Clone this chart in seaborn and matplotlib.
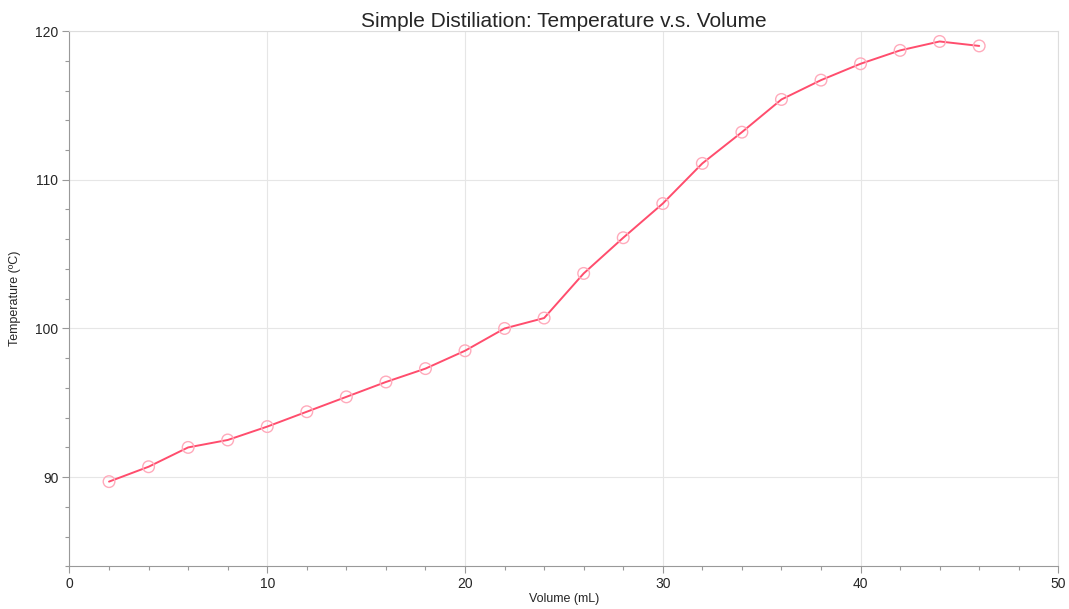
import pandas as pd
import seaborn as sns
import matplotlib.pyplot as plt
from matplotlib.ticker import MultipleLocator

volume = [2, 4, 6, 8, 10, 12, 14, 16, 18, 20, 22, 24, 26, 28, 30, 32, 34, 36, 38, 40, 42, 44, 46]
temperature = [89.7, 90.7, 92.0, 92.5, 93.4, 94.4, 95.4, 96.4, 97.3, 98.5, 100.0, 100.7,
               103.7, 106.1, 108.4, 111.1, 113.2, 115.4, 116.7, 117.8, 118.7, 119.3, 119.0]

df = pd.DataFrame({'Volume': volume, 'Temperature': temperature})

sns.set_style('white')
plt.rcParams['font.family'] = ['Liberation Sans', 'DejaVu Sans']
fig, ax = plt.subplots(figsize=(10.69, 6.09), dpi=100)
fig.subplots_adjust(left=0.065, right=0.99, top=0.949, bottom=0.07)

line_color = '#ff4d6d'
sns.lineplot(data=df, x='Volume', y='Temperature', color=line_color, linewidth=1.4, ax=ax)
ax.scatter(df['Volume'], df['Temperature'], s=70, facecolors='none',
           edgecolors='#ffaabb', linewidths=1.0, zorder=3)

ax.set_xlim(0, 50)
ax.set_ylim(84, 120)
ax.xaxis.set_major_locator(MultipleLocator(10))
ax.xaxis.set_minor_locator(MultipleLocator(2))
ax.yaxis.set_major_locator(MultipleLocator(10))
ax.yaxis.set_minor_locator(MultipleLocator(2))
ax.grid(True, which='major', color='#e6e6e6', linewidth=0.8)
ax.tick_params(which='major', direction='out', length=5, color='#999999', labelsize=10, width=0.8, pad=3)
ax.tick_params(which='minor', direction='out', length=3, color='#999999', width=0.8)
ax.tick_params(axis='both', which='both', bottom=True, left=True)

for side in ['left', 'bottom']:
    ax.spines[side].set_color('#999999')
for side in ['top', 'right']:
    ax.spines[side].set_color('#dddddd')

ax.set_xlabel('Volume (mL)', fontsize=9, labelpad=1)
ax.set_ylabel('Temperature (ºC)', fontsize=9, labelpad=10)
ax.set_title('Simple Distiliation: Temperature v.s. Volume', fontsize=15, pad=3)

fig.savefig('out.png', dpi=100)
